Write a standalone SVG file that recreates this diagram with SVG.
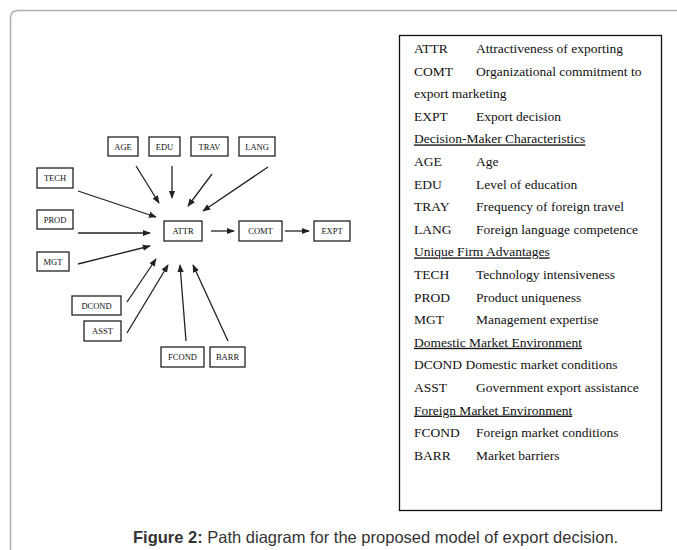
<svg xmlns="http://www.w3.org/2000/svg" width="677" height="550" viewBox="0 0 677 550">
<style>
.frame{fill:none;stroke:#b0b0b0;stroke-width:1.5}
.nb{fill:#fff;stroke:#222;stroke-width:1.3}
.nt{font-family:"Liberation Serif",serif;font-size:8.5px;fill:#111;text-anchor:middle}
.cn{stroke:#222;stroke-width:1.3;fill:none;marker-end:url(#ah)}
.lg{font-family:"Liberation Serif",serif;font-size:13.5px;fill:#111}
.u{text-decoration:underline}
.cap{font-family:"Liberation Sans",Arial,sans-serif;font-size:16.5px;fill:#333}
</style>
<defs>
<marker id="ah" viewBox="0 0 10 10" refX="9" refY="5" markerWidth="8" markerHeight="8" markerUnits="userSpaceOnUse" orient="auto">
<path d="M0,1 L10,5 L0,9 Z" fill="#222"/>
</marker>
</defs>
<rect width="677" height="550" fill="#fff"/>
<path class="frame" d="M10.5,550 V18 Q10.5,10.5 18,10.5 H677"/>

<g id="connectors">
<line class="cn" x1="136" y1="166" x2="159" y2="203"/>
<line class="cn" x1="172" y1="166" x2="172" y2="198"/>
<line class="cn" x1="212" y1="174" x2="188" y2="206"/>
<line class="cn" x1="268" y1="167" x2="203" y2="211"/>
<line class="cn" x1="78" y1="191" x2="156" y2="217"/>
<line class="cn" x1="78" y1="233" x2="150" y2="233"/>
<line class="cn" x1="78" y1="264" x2="150" y2="246"/>
<line class="cn" x1="127" y1="302" x2="156" y2="259"/>
<line class="cn" x1="127" y1="333" x2="168" y2="265"/>
<line class="cn" x1="186" y1="341" x2="180" y2="265"/>
<line class="cn" x1="228" y1="341" x2="193" y2="265"/>
<line class="cn" x1="211" y1="231" x2="234" y2="231"/>
<line class="cn" x1="285" y1="231" x2="309" y2="231"/>
</g>

<g id="AGE"><rect class="nb" x="108" y="137" width="30" height="19"/><text class="nt" x="123" y="149.5">AGE</text></g>
<g id="EDU"><rect class="nb" x="149" y="137" width="31" height="19"/><text class="nt" x="164.5" y="149.5">EDU</text></g>
<g id="TRAV"><rect class="nb" x="191" y="137" width="37" height="19"/><text class="nt" x="209.5" y="149.5">TRAV</text></g>
<g id="LANG"><rect class="nb" x="239" y="137" width="36" height="19"/><text class="nt" x="257" y="149.5">LANG</text></g>
<g id="TECH"><rect class="nb" x="37" y="168" width="36" height="20"/><text class="nt" x="55" y="181">TECH</text></g>
<g id="PROD"><rect class="nb" x="37" y="210" width="36" height="19"/><text class="nt" x="55" y="222.5">PROD</text></g>
<g id="MGT"><rect class="nb" x="37" y="252" width="32" height="19"/><text class="nt" x="53" y="264.5">MGT</text></g>
<g id="ATTR"><rect class="nb" x="164" y="221" width="38" height="20"/><text class="nt" x="183" y="234">ATTR</text></g>
<g id="COMT"><rect class="nb" x="239" y="221" width="43" height="20"/><text class="nt" x="260.5" y="234">COMT</text></g>
<g id="EXPT"><rect class="nb" x="314" y="221" width="36" height="20"/><text class="nt" x="332" y="234">EXPT</text></g>
<g id="DCOND"><rect class="nb" x="72" y="296" width="49" height="19"/><text class="nt" x="96.5" y="308.5">DCOND</text></g>
<g id="ASST"><rect class="nb" x="84" y="321" width="37" height="20"/><text class="nt" x="102.5" y="334">ASST</text></g>
<g id="FCOND"><rect class="nb" x="161" y="347" width="43" height="20"/><text class="nt" x="182.5" y="360">FCOND</text></g>
<g id="BARR"><rect class="nb" x="210" y="347" width="35" height="20"/><text class="nt" x="227.5" y="360">BARR</text></g>

<g id="legend">
<rect x="399.5" y="35.5" width="262" height="475" fill="#fff" stroke="#111" stroke-width="1.3"/>
<g class="lg">
<text x="414" y="53">ATTR</text><text x="476" y="53">Attractiveness of exporting</text>
<text x="414" y="75.6">COMT</text><text x="476" y="75.6">Organizational commitment to</text>
<text x="414" y="98.2">export marketing</text>
<text x="414" y="120.8">EXPT</text><text x="476" y="120.8">Export decision</text>
<text class="u" x="414" y="143.4">Decision-Maker Characteristics</text>
<text x="414" y="166">AGE</text><text x="476" y="166">Age</text>
<text x="414" y="188.6">EDU</text><text x="476" y="188.6">Level of education</text>
<text x="414" y="211.2">TRAY</text><text x="476" y="211.2">Frequency of foreign travel</text>
<text x="414" y="233.8">LANG</text><text x="476" y="233.8">Foreign language competence</text>
<text class="u" x="414" y="256.4">Unique Firm Advantages</text>
<text x="414" y="279">TECH</text><text x="476" y="279">Technology intensiveness</text>
<text x="414" y="301.6">PROD</text><text x="476" y="301.6">Product uniqueness</text>
<text x="414" y="324.2">MGT</text><text x="476" y="324.2">Management expertise</text>
<text class="u" x="414" y="346.8">Domestic Market Environment</text>
<text x="414" y="369.4">DCOND Domestic market conditions</text>
<text x="414" y="392">ASST</text><text x="476" y="392">Government export assistance</text>
<text class="u" x="414" y="414.6">Foreign Market Environment</text>
<text x="414" y="437.2">FCOND</text><text x="476" y="437.2">Foreign market conditions</text>
<text x="414" y="459.8">BARR</text><text x="476" y="459.8">Market barriers</text>
</g>
</g>

<text class="cap" x="133" y="543"><tspan font-weight="bold">Figure 2:</tspan> Path diagram for the proposed model of export decision.</text>
</svg>
